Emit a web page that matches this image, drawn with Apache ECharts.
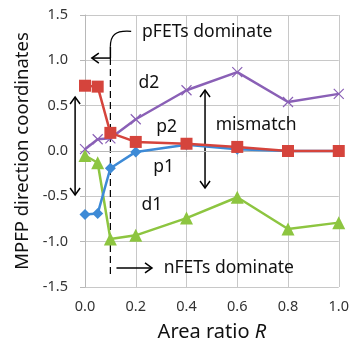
<!DOCTYPE html>
<html>
<head>
<meta charset="utf-8">
<script src="https://cdn.jsdelivr.net/npm/echarts@6/dist/echarts.min.js"></script>
<style>
  body { margin: 0; background: #fff; }
  #chart { width: 352px; height: 347px; }
</style>
</head>
<body>
<div id="chart"></div>
<script>
// area ratio R
var ratios = [0, 0.05, 0.1, 0.2, 0.4, 0.6, 0.8, 1.0];
// MPFP direction coordinates
var p1 = [-0.70, -0.69, -0.19, -0.01, 0.07, 0.02, 0.0, 0.0];
var p2 = [0.72, 0.71, 0.20, 0.10, 0.08, 0.045, 0.0, 0.0];
var d1 = [-0.05, -0.13, -0.97, -0.93, -0.74, -0.51, -0.86, -0.79];
var d2 = [0.02, 0.13, 0.14, 0.35, 0.67, 0.87, 0.54, 0.63];

var font = '"Noto Sans", sans-serif';

function pairs(ys) {
  return ratios.map(function (r, i) { return [r, ys[i]]; });
}

function line (name, ys, color, symbol, size, extra) {
  var s = {
    name: name,
    type: 'line',
    data: pairs(ys),
    symbol: symbol,
    symbolSize: size,
    lineStyle: { color: color, width: 2.5 },
    itemStyle: { color: color },
    emphasis: { disabled: true }
  };
  if (extra) s.itemStyle = extra;
  return s;
}

let myChart = echarts.init(document.getElementById('chart'));
let option = {
  animation: false,
  grid: { left: 85, right: 9, top: 15, bottom: 60 },
  xAxis: {
    type: 'value',
    min: 0, max: 1, interval: 0.2,
    name: 'Area ratio {i|R}',
    nameLocation: 'middle',
    nameGap: 35,
    nameTextStyle: {
      fontFamily: font, fontSize: 20, color: '#111',
      rich: { i: { fontFamily: font, fontSize: 20, fontStyle: 'italic', color: '#111' } }
    },
    axisLine: { lineStyle: { color: '#b8b8b8', width: 1 } },
    axisTick: { show: true, length: 6, lineStyle: { color: '#b8b8b8' } },
    splitLine: { show: true, lineStyle: { color: '#c8c8c8', width: 1 } },
    axisLabel: {
      fontFamily: font, fontSize: 14.5, color: '#333', margin: 12,
      formatter: function (v) { return v.toFixed(1); }
    }
  },
  yAxis: {
    type: 'value',
    min: -1.5, max: 1.5, interval: 0.5,
    name: 'MPFP direction coordinates',
    nameLocation: 'middle',
    nameGap: 47,
    nameTextStyle: { fontFamily: font, fontSize: 18.5, color: '#111' },
    axisLine: { show: true, lineStyle: { color: '#b8b8b8', width: 1 } },
    axisTick: { show: true, length: 5, lineStyle: { color: '#b8b8b8' } },
    splitLine: { show: true, lineStyle: { color: '#c8c8c8', width: 1 } },
    axisLabel: {
      fontFamily: font, fontSize: 14.5, color: '#333', margin: 17,
      formatter: function (v) { return v.toFixed(1); }
    }
  },
  series: [
    line('d1', d1, '#8dc540', 'triangle', 13),
    line('p1', p1, '#3d8ad6', 'diamond', 11),
    line('d2', d2, '#8a60b6', 'path://M0,0L10,10M10,0L0,10', 10,
      { color: '#8a60b6', borderColor: '#8a60b6', borderWidth: 1.2 }),
    line('p2', p2, '#d5443c', 'rect', 12)
  ]
};
myChart.setOption(option);

// annotations, placed in data units
function px (x, y) { return myChart.convertToPixel({ gridIndex: 0 }, [x, y]); }

function arrowHead (tip, dir) {
  // open chevron at tip, dir = unit vector of arrow direction
  var L = 7, W = 5;
  var bx = tip[0] - dir[0] * L, by = tip[1] - dir[1] * L;
  return {
    type: 'polyline',
    shape: { points: [[bx - dir[1] * W, by + dir[0] * W], tip, [bx + dir[1] * W, by - dir[0] * W]] },
    style: { stroke: '#000', lineWidth: 1.5, fill: null }
  };
}

function seg (a, b, dash) {
  return {
    type: 'line',
    shape: { x1: a[0], y1: a[1], x2: b[0], y2: b[1] },
    style: { stroke: '#000', lineWidth: dash ? 1.2 : 1.5, lineDash: dash ? [7, 4] : null }
  };
}

function label (text, pos, align) {
  return {
    type: 'text',
    x: pos[0], y: pos[1],
    style: {
      text: text, fontFamily: font, fontSize: 17.5, fill: '#111',
      align: align || 'center', verticalAlign: 'middle'
    }
  };
}

var g = [];
// pFETs leader
var c0 = px(0.182, 1.32), c1 = px(0.116, 1.335), c2 = px(0.1, 1.27), c3 = px(0.1, 1.15);
g.push({
  type: 'bezierCurve',
  shape: { x1: c0[0], y1: c0[1], cpx1: c1[0], cpy1: c1[1], cpx2: c2[0], cpy2: c2[1], x2: c3[0], y2: c3[1] },
  style: { stroke: '#000', lineWidth: 1.2, fill: null }
});
var corner = px(0.1, 1.025), leftTip = px(0.027, 1.025);
g.push(seg(c3, corner));
g.push(seg(corner, leftTip));
g.push(arrowHead(leftTip, [-1, 0]));
g.push(seg(corner, px(0.1, -1.39), true));
g.push(label('pFETs dominate', px(0.225, 1.31), 'left'));

// nFETs arrow
var nTip = px(0.264, -1.29);
g.push(seg(px(0.124, -1.29), nTip));
g.push(arrowHead(nTip, [1, 0]));
g.push(label('nFETs dominate', px(0.31, -1.29), 'left'));

// double arrows
function dbl (x, yTop, yBot) {
  var a = px(x, yTop), b = px(x, yBot);
  g.push(seg(a, b));
  g.push(arrowHead(a, [0, -1]));
  g.push(arrowHead(b, [0, 1]));
}
dbl(-0.039, 0.595, -0.485);
dbl(0.473, 0.673, -0.408);
g.push(label('mismatch', px(0.515, 0.287), 'left'));

g.push(label('d2', px(0.252, 0.75)));
g.push(label('p2', px(0.322, 0.265)));
g.push(label('p1', px(0.31, -0.176)));
g.push(label('d1', px(0.264, -0.596)));

myChart.setOption({ graphic: g });
</script>
</body>
</html>
